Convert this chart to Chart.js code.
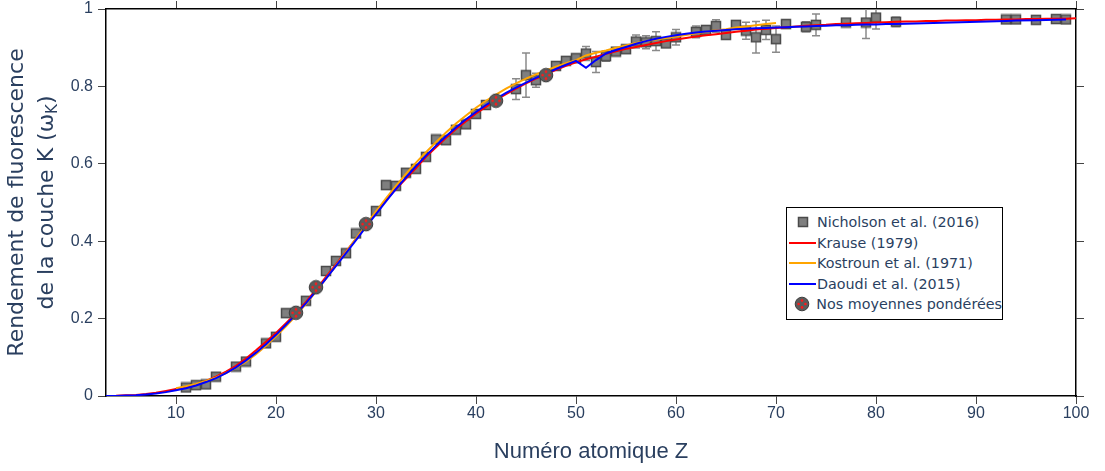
<!DOCTYPE html>
<html>
<head>
<meta charset="utf-8">
<script src="https://cdn.jsdelivr.net/npm/chart.js@4"></script>
<style>
  body { margin: 0; background: #fff; }
  #wrap { position: relative; width: 1105px; height: 471px; }
  #legend {
    position: absolute; left: 786px; top: 207px; width: 215px; height: 107px;
    border: 1px solid #000; background: #fff; box-sizing: content-box;
    font-family: 'DejaVu Sans', sans-serif; font-size: 14.3px; color: #2a3f5f;
    padding-top: 4px;
  }
  .item { display: flex; align-items: center; height: 20.5px; white-space: nowrap; }
  .icon { width: 29px; margin-left: 1px; display: flex; justify-content: center; align-items: center; }
  .icon img { display: block; }
  .line { width: 27px; height: 2px; }
</style>
</head>
<body>
<div id="wrap">
  <canvas id="chart" width="1105" height="471"></canvas>
  <div id="legend"></div>
</div>
<script>
// Nicholson et al. (2016) measurements
const nicholsonZ = [11, 12, 13, 14, 16, 17, 19, 20, 21, 23, 25, 26, 27, 28, 30, 31, 32, 33, 34, 35,
  36, 37, 38, 39, 40, 41, 44, 45, 46, 48, 49, 50, 51, 52, 53, 54, 55, 56, 57, 58,
  59, 60, 62, 63, 64, 65, 66, 67, 68, 69, 70, 71, 73, 74, 77, 79, 80, 82, 93, 94,
  96, 98, 99];
const nicholsonW = [0.022, 0.028, 0.030, 0.050, 0.076, 0.089, 0.136, 0.153, 0.214, 0.246, 0.323, 0.349, 0.369, 0.420, 0.478, 0.545, 0.543, 0.577, 0.587, 0.618,
  0.663, 0.661, 0.688, 0.702, 0.729, 0.752, 0.793, 0.829, 0.816, 0.853, 0.866, 0.873, 0.885, 0.863, 0.878, 0.890, 0.896, 0.916, 0.914, 0.917,
  0.911, 0.927, 0.941, 0.946, 0.956, 0.933, 0.959, 0.944, 0.927, 0.946, 0.922, 0.961, 0.954, 0.959, 0.965, 0.965, 0.978, 0.967, 0.973, 0.973,
  0.972, 0.974, 0.973];
const nicholsonErr = [0, 0, 0, 0, 0, 0, 0, 0, 0, 0, 0, 0, 0, 0, 0, 0, 0, 0, 0, 0,
  0, 0, 0, 0, 0, 0, 0.027, 0.057, 0.018, 0.005, 0.005, 0.004, 0.018, 0.027, 0.013, 0.005, 0.005, 0.017, 0.017, 0.024,
  0.010, 0.020, 0.015, 0.008, 0.016, 0.010, 0.009, 0.022, 0.041, 0.025, 0.034, 0.011, 0.013, 0.028, 0.005, 0.041, 0.030, 0.012, 0.004, 0.004,
  0.004, 0.004, 0.004];

// Krause (1979)
const krauseZ = [3, 4, 5, 6, 7, 8, 9, 10, 11, 12, 13, 14, 15, 16, 17, 18, 19, 20, 21, 22,
  23, 24, 25, 26, 27, 28, 29, 30, 31, 32, 33, 34, 35, 36, 37, 38, 39, 40, 41, 42,
  43, 44, 45, 46, 47, 48, 49, 50, 51, 52, 53, 54, 55, 56, 57, 58, 59, 60, 61, 62,
  63, 64, 65, 66, 67, 68, 69, 70, 71, 72, 73, 74, 75, 76, 77, 78, 79, 80, 81, 82,
  83, 84, 85, 86, 87, 88, 89, 90, 91, 92, 93, 94, 95, 96, 97, 98, 99, 100, 101];
const krauseW = [0.0002, 0.0006, 0.0017, 0.0028, 0.0052, 0.0083, 0.013, 0.018, 0.023, 0.030, 0.039, 0.050, 0.063, 0.078, 0.097, 0.118, 0.140, 0.163, 0.188, 0.214,
  0.243, 0.275, 0.308, 0.340, 0.373, 0.406, 0.440, 0.474, 0.507, 0.535, 0.562, 0.589, 0.618, 0.643, 0.667, 0.690, 0.710, 0.730, 0.747, 0.765,
  0.780, 0.794, 0.808, 0.820, 0.831, 0.843, 0.853, 0.862, 0.870, 0.877, 0.884, 0.891, 0.897, 0.902, 0.907, 0.912, 0.917, 0.921, 0.925, 0.929,
  0.932, 0.935, 0.938, 0.941, 0.944, 0.947, 0.949, 0.951, 0.953, 0.955, 0.957, 0.958, 0.959, 0.961, 0.962, 0.963, 0.964, 0.965, 0.966, 0.967,
  0.968, 0.968, 0.969, 0.969, 0.970, 0.970, 0.971, 0.971, 0.972, 0.972, 0.973, 0.973, 0.974, 0.974, 0.975, 0.975, 0.975, 0.976, 0.976];

// Kostroun et al. (1971)
const kostrounZ = [10, 11, 12, 13, 14, 15, 16, 17, 18, 19, 20, 21, 22, 23, 24, 25, 26, 27, 28, 29,
  30, 31, 32, 33, 34, 35, 36, 37, 38, 39, 40, 41, 42, 43, 44, 45, 46, 47, 48, 49,
  50, 51, 52, 53, 54, 55, 56, 57, 58, 59, 60, 61, 62, 63, 64, 65, 66, 67, 68, 69, 70];
const kostrounW = [0.020, 0.025, 0.031, 0.039, 0.048, 0.059, 0.073, 0.089, 0.108, 0.130, 0.154, 0.180, 0.208, 0.238, 0.270, 0.303, 0.337, 0.372, 0.407, 0.442,
  0.477, 0.511, 0.543, 0.574, 0.603, 0.630, 0.656, 0.681, 0.704, 0.725, 0.745, 0.763, 0.779, 0.794, 0.808, 0.820, 0.831, 0.841, 0.851, 0.860,
  0.868, 0.880, 0.887, 0.893, 0.900, 0.906, 0.912, 0.917, 0.921, 0.925, 0.929, 0.933, 0.937, 0.941, 0.945, 0.948, 0.952, 0.955, 0.958, 0.961, 0.964];

// Daoudi et al. (2015)
const daoudiZ = [3, 4, 5, 6, 7, 8, 9, 10, 11, 12, 13, 14, 15, 16, 17, 18, 19, 20, 21, 22,
  23, 24, 25, 26, 27, 28, 29, 30, 31, 32, 33, 34, 35, 36, 37, 38, 39, 40, 41, 42,
  43, 44, 45, 46, 47, 48, 49, 50, 51, 52, 53, 54, 55, 56, 57, 58, 59, 60, 61, 62,
  63, 64, 65, 66, 67, 68, 69, 70, 71, 72, 73, 74, 75, 76, 77, 78, 79, 80, 81, 82,
  83, 93, 94, 96, 98, 99];
const daoudiW = [0.0001, 0.0003, 0.0010, 0.0020, 0.0040, 0.0065, 0.010, 0.015, 0.020, 0.027, 0.036, 0.046, 0.059, 0.074, 0.092, 0.112, 0.134, 0.158, 0.184, 0.211,
  0.240, 0.271, 0.303, 0.336, 0.369, 0.403, 0.437, 0.470, 0.503, 0.535, 0.565, 0.594, 0.621, 0.647, 0.671, 0.694, 0.715, 0.734, 0.752, 0.768,
  0.783, 0.797, 0.810, 0.822, 0.833, 0.845, 0.856, 0.866, 0.848, 0.868, 0.885, 0.894, 0.902, 0.910, 0.917, 0.923, 0.928, 0.932, 0.936, 0.939,
  0.942, 0.944, 0.946, 0.948, 0.949, 0.950, 0.951, 0.952, 0.953, 0.954, 0.955, 0.956, 0.957, 0.958, 0.958, 0.959, 0.960, 0.960, 0.961, 0.961,
  0.962, 0.969, 0.970, 0.971, 0.972, 0.973];

// weighted averages
const avgZ = [22, 24, 29, 42, 47];
const avgW = [0.215, 0.281, 0.444, 0.763, 0.829];

const xTicks = [10, 20, 30, 40, 50, 60, 70, 80, 90, 100];
const yTicks = [0, 0.2, 0.4, 0.6, 0.8, 1];

const textColor = '#2a3f5f';
const toPoints = (xs, ys) => xs.map((v, i) => ({ x: v, y: ys[i] }));

// marker images
function squareMarker() {
  const c = document.createElement('canvas');
  c.width = 12; c.height = 12;
  const g = c.getContext('2d');
  g.fillStyle = '#7f7f7f';
  g.strokeStyle = '#4a4a4a';
  g.lineWidth = 1.5;
  g.fillRect(1.5, 1.5, 9, 9);
  g.strokeRect(1.5, 1.5, 9, 9);
  return c;
}
function avgMarker() {
  const c = document.createElement('canvas');
  c.width = 16; c.height = 16;
  const g = c.getContext('2d');
  g.beginPath();
  g.arc(8, 8, 6.8, 0, Math.PI * 2);
  g.fillStyle = '#5c5c5c';
  g.fill();
  g.strokeStyle = '#3c3c3c';
  g.lineWidth = 1;
  g.stroke();
  g.fillStyle = '#ff1a1a';
  [[8, 4.6], [4.6, 8], [11.4, 8], [8, 11.4]].forEach(([a, b]) => {
    g.beginPath(); g.arc(a, b, 1.3, 0, Math.PI * 2); g.fill();
  });
  return c;
}
const sqImg = squareMarker();
const avgImg = avgMarker();

const errorBars = {
  id: 'errorBars',
  beforeDatasetsDraw(chart) {
    const { ctx, chartArea } = chart;
    const xs = chart.scales.x, ys = chart.scales.y;
    ctx.save();
    ctx.beginPath();
    ctx.rect(chartArea.left, chartArea.top, chartArea.right - chartArea.left, chartArea.bottom - chartArea.top);
    ctx.clip();
    ctx.strokeStyle = '#8a8a8a';
    ctx.lineWidth = 1.5;
    nicholsonZ.forEach((z, i) => {
      const e = nicholsonErr[i];
      if (!e) return;
      const px = xs.getPixelForValue(z);
      const t = ys.getPixelForValue(nicholsonW[i] + e);
      const b = ys.getPixelForValue(nicholsonW[i] - e);
      ctx.beginPath();
      ctx.moveTo(px, t); ctx.lineTo(px, b);
      ctx.moveTo(px - 4, t); ctx.lineTo(px + 4, t);
      ctx.moveTo(px - 4, b); ctx.lineTo(px + 4, b);
      ctx.stroke();
    });
    ctx.restore();
  }
};

const titleSize = 22;
const yTitle = {
  id: 'yTitle',
  afterDraw(chart) {
    const { ctx, chartArea } = chart;
    const cy = (chartArea.top + chartArea.bottom) / 2;
    const big = titleSize + 'px "DejaVu Sans"';
    const small = Math.round(titleSize * 0.7) + 'px "DejaVu Sans"';
    ctx.save();
    ctx.fillStyle = textColor;
    ctx.textBaseline = 'middle';
    ctx.font = big;
    ctx.translate(17, cy);
    ctx.rotate(-Math.PI / 2);
    ctx.textAlign = 'center';
    ctx.fillText('Rendement de fluorescence', 0, 0);
    // second line with subscript K
    const main = 'de la couche K (ω';
    const sub = 'K';
    const end = ')';
    const w1 = ctx.measureText(main).width;
    const w3 = ctx.measureText(end).width;
    ctx.font = small;
    const w2 = ctx.measureText(sub).width;
    const x0 = -(w1 + w2 + w3) / 2;
    ctx.textAlign = 'left';
    ctx.font = big;
    ctx.fillText(main, x0, 30);
    ctx.font = small;
    ctx.fillText(sub, x0 + w1, 30 + 6);
    ctx.font = big;
    ctx.fillText(end, x0 + w1 + w2, 30);
    ctx.restore();
  }
};

const tickGrid = { drawOnChartArea: false, drawTicks: true, tickLength: 8, tickColor: '#444', tickWidth: 1 };
const frame = { display: true, color: '#000', width: 1.5 };
const tickFont = { size: 16, lineHeight: 0.4 };
const fmt = (v) => String(v);

new Chart(document.getElementById('chart'), {
  type: 'scatter',
  data: {
    datasets: [
      {
        label: 'Nos moyennes pondérées',
        data: toPoints(avgZ, avgW),
        pointStyle: avgImg,
        pointRadius: 8,
        order: 1
      },
      {
        label: 'Daoudi et al. (2015)',
        data: toPoints(daoudiZ, daoudiW),
        showLine: true,
        borderColor: 'blue',
        borderWidth: 2,
        pointRadius: 0,
        order: 2
      },
      {
        label: 'Kostroun et al. (1971)',
        data: toPoints(kostrounZ, kostrounW),
        showLine: true,
        borderColor: 'orange',
        borderWidth: 2,
        pointRadius: 0,
        order: 3
      },
      {
        label: 'Krause (1979)',
        data: toPoints(krauseZ, krauseW),
        showLine: true,
        borderColor: 'red',
        borderWidth: 2,
        pointRadius: 0,
        order: 4
      },
      {
        label: 'Nicholson et al. (2016)',
        data: toPoints(nicholsonZ, nicholsonW),
        pointStyle: sqImg,
        pointRadius: 6,
        order: 5
      }
    ]
  },
  options: {
    responsive: false,
    animation: false,
    layout: { padding: 0 },
    plugins: {
      legend: { display: false },
      tooltip: { enabled: false }
    },
    scales: {
      x: {
        type: 'linear',
        position: 'bottom',
        min: 3,
        max: 100,
        afterBuildTicks: (s) => { s.ticks = xTicks.map(v => ({ value: v })); },
        afterFit: (s) => { s.height = 75; },
        grid: tickGrid,
        border: frame,
        ticks: { color: textColor, font: { size: 16 }, padding: 0, maxRotation: 0, callback: fmt },
        title: {
          display: true,
          text: 'Numéro atomique Z',
          color: textColor,
          font: { size: titleSize },
          padding: { top: 0, bottom: 6 }
        }
      },
      x2: {
        type: 'linear',
        position: 'top',
        min: 3,
        max: 100,
        afterBuildTicks: (s) => { s.ticks = xTicks.map(v => ({ value: v })); },
        afterFit: (s) => { s.height = 9; },
        grid: tickGrid,
        border: frame,
        ticks: { display: false }
      },
      y: {
        type: 'linear',
        position: 'left',
        min: 0,
        max: 1,
        afterBuildTicks: (s) => { s.ticks = yTicks.map(v => ({ value: v })); },
        afterFit: (s) => { s.width = 106; },
        grid: tickGrid,
        border: frame,
        ticks: { color: textColor, font: tickFont, padding: 5, callback: fmt }
      },
      y2: {
        type: 'linear',
        position: 'right',
        min: 0,
        max: 1,
        afterBuildTicks: (s) => { s.ticks = yTicks.map(v => ({ value: v })); },
        afterFit: (s) => { s.width = 29; },
        grid: tickGrid,
        border: frame,
        ticks: { display: false }
      }
    }
  },
  plugins: [errorBars, yTitle]
});

// legend, in the plotting order of the original
const legendItems = [
  { label: 'Nicholson et al. (2016)', img: sqImg },
  { label: 'Krause (1979)', color: 'red' },
  { label: 'Kostroun et al. (1971)', color: 'orange' },
  { label: 'Daoudi et al. (2015)', color: 'blue' },
  { label: 'Nos moyennes pondérées', img: avgImg }
];
const legend = document.getElementById('legend');
legendItems.forEach(it => {
  const row = document.createElement('div');
  row.className = 'item';
  const icon = document.createElement('div');
  icon.className = 'icon';
  if (it.img) {
    const im = document.createElement('img');
    im.src = it.img.toDataURL();
    icon.appendChild(im);
  } else {
    const ln = document.createElement('div');
    ln.className = 'line';
    ln.style.background = it.color;
    icon.appendChild(ln);
  }
  const txt = document.createElement('span');
  txt.textContent = it.label;
  row.appendChild(icon);
  row.appendChild(txt);
  legend.appendChild(row);
});
</script>
</body>
</html>
